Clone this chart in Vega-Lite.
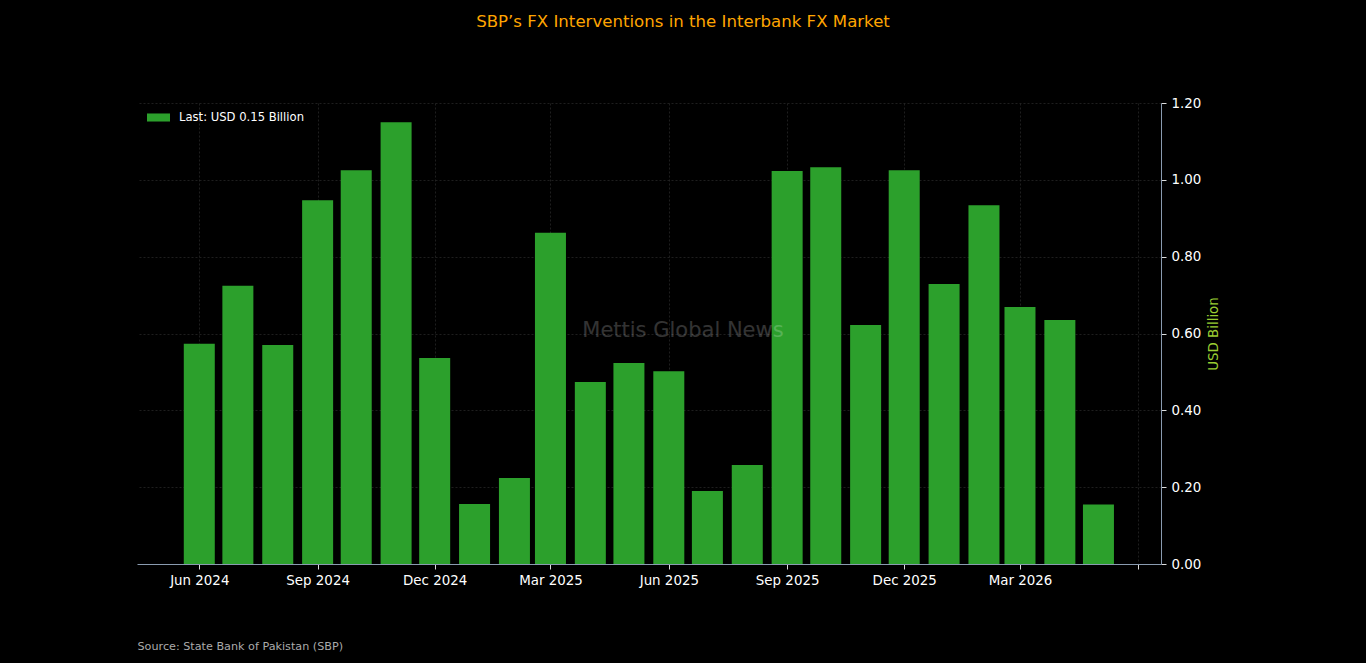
{
  "$schema": "https://vega.github.io/schema/vega-lite/v6.json",
  "autosize": {"type": "none"},
  "width": 1024,
  "height": 461,
  "padding": {"left": 137, "top": 103, "right": 205, "bottom": 99},
  "background": "#000000",
  "title": {
    "text": "SBP’s FX Interventions in the Interbank FX Market",
    "color": "#ffa500",
    "font": "DejaVu Sans",
    "fontSize": 16.6,
    "fontWeight": "normal",
    "anchor": "middle",
    "dx": 34,
    "offset": 65
  },
  "data": {
    "values": [
      {"month": "2024-06-01T00:00:00", "value": 0.573},
      {"month": "2024-07-01T00:00:00", "value": 0.724},
      {"month": "2024-08-01T00:00:00", "value": 0.570},
      {"month": "2024-09-01T00:00:00", "value": 0.947},
      {"month": "2024-10-01T00:00:00", "value": 1.025},
      {"month": "2024-11-01T00:00:00", "value": 1.150},
      {"month": "2024-12-01T00:00:00", "value": 0.536},
      {"month": "2025-01-01T00:00:00", "value": 0.156},
      {"month": "2025-02-01T00:00:00", "value": 0.224},
      {"month": "2025-03-01T00:00:00", "value": 0.862},
      {"month": "2025-04-01T00:00:00", "value": 0.474},
      {"month": "2025-05-01T00:00:00", "value": 0.523},
      {"month": "2025-06-01T00:00:00", "value": 0.502},
      {"month": "2025-07-01T00:00:00", "value": 0.190},
      {"month": "2025-08-01T00:00:00", "value": 0.258},
      {"month": "2025-09-01T00:00:00", "value": 1.023},
      {"month": "2025-10-01T00:00:00", "value": 1.033},
      {"month": "2025-11-01T00:00:00", "value": 0.622},
      {"month": "2025-12-01T00:00:00", "value": 1.025},
      {"month": "2026-01-01T00:00:00", "value": 0.729},
      {"month": "2026-02-01T00:00:00", "value": 0.934},
      {"month": "2026-03-01T00:00:00", "value": 0.669},
      {"month": "2026-04-01T00:00:00", "value": 0.635},
      {"month": "2026-05-01T00:00:00", "value": 0.155}
    ]
  },
  "encoding": {
    "x": {
      "field": "month",
      "type": "temporal",
      "scale": {
        "domain": [
          {"year": 2024, "month": 4, "date": 13, "hours": 14},
          {"year": 2026, "month": 6, "date": 18, "hours": 15}
        ],
        "nice": false,
        "padding": 0
      },
      "axis": {
        "values": [
          {"year": 2024, "month": 6, "date": 1},
          {"year": 2024, "month": 9, "date": 1},
          {"year": 2024, "month": 12, "date": 1},
          {"year": 2025, "month": 3, "date": 1},
          {"year": 2025, "month": 6, "date": 1},
          {"year": 2025, "month": 9, "date": 1},
          {"year": 2025, "month": 12, "date": 1},
          {"year": 2026, "month": 3, "date": 1},
          {"year": 2026, "month": 6, "date": 1}
        ],
        "format": "%b %Y",
        "labelExpr": "year(datum.value) == 2026 && month(datum.value) == 5 ? '' : datum.label",
        "title": "Source: State Bank of Pakistan (SBP)",
        "titleAnchor": "start",
        "titleAlign": "left",
        "titleBaseline": "middle",
        "titleX": 0,
        "titleY": 82,
        "titleColor": "#aaaaaa",
        "titleFontSize": 11.2,
        "titleFontWeight": "normal",
        "labelPadding": 4
      }
    },
    "y": {
      "field": "value",
      "type": "quantitative",
      "scale": {"domain": [0, 1.2], "nice": false},
      "axis": {
        "orient": "right",
        "values": [0, 0.2, 0.4, 0.6, 0.8, 1.0, 1.2],
        "format": ".2f",
        "title": "USD Billion",
        "titleColor": "#9acd32",
        "titleAngle": 270,
        "titleFontSize": 13.4,
        "titleFontWeight": "normal",
        "titlePadding": 20,
        "labelPadding": 5
      }
    }
  },
  "layer": [
    {
      "mark": {"type": "bar", "size": 31},
      "encoding": {
        "color": {
          "datum": "Last: USD 0.15 Billion",
          "type": "nominal",
          "scale": {"range": ["#2ca02c"]},
          "legend": {
            "title": null,
            "orient": "none",
            "legendX": 10,
            "legendY": 3,
            "symbolType": "M-1,-0.35H1V0.35H-1Z",
            "symbolSize": 529,
            "symbolStrokeWidth": 0,
            "labelColor": "#ffffff",
            "labelFontSize": 11.6,
            "labelFont": "DejaVu Sans",
            "labelOffset": 9
          }
        }
      }
    },
    {
      "data": {"values": [{"label": "Mettis Global News", "when": "2025-06-12T00:00:00", "level": 0.606}]},
      "mark": {
        "type": "text",
        "font": "DejaVu Sans",
        "fontSize": 21,
        "color": "#ffffff",
        "opacity": 0.2
      },
      "encoding": {
        "x": {"field": "when", "type": "temporal"},
        "y": {"field": "level", "type": "quantitative"},
        "text": {"field": "label"}
      }
    }
  ],
  "config": {
    "font": "DejaVu Sans",
    "view": {"stroke": null},
    "axis": {
      "domainColor": "#8a9bb0",
      "domainWidth": 1,
      "tickColor": "#dddddd",
      "tickSize": 5,
      "labelColor": "#ffffff",
      "labelFont": "DejaVu Sans",
      "labelFontSize": 13.4,
      "titleFont": "DejaVu Sans",
      "grid": true,
      "gridColor": "#262626",
      "gridDash": [2, 2],
      "gridWidth": 0.8
    }
  }
}
